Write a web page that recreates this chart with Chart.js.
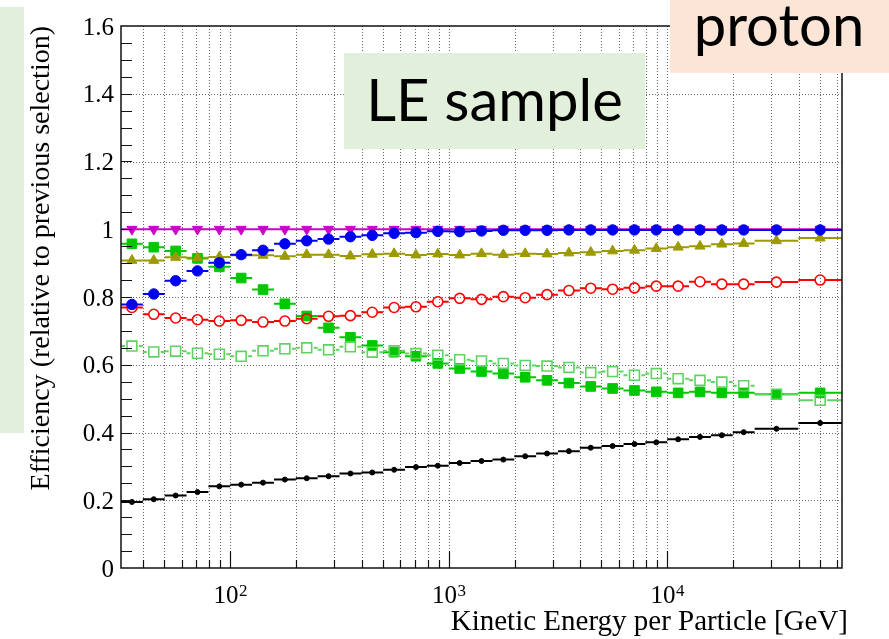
<!DOCTYPE html>
<html>
<head>
<meta charset="utf-8">
<script src="https://cdn.jsdelivr.net/npm/chart.js@4.4.1/dist/chart.umd.min.js"></script>
<style>
  html, body { margin: 0; padding: 0; background: #fff; }
  canvas { display: block; }
</style>
</head>
<body>
<canvas id="chart" width="889" height="639"></canvas>
<script>
"use strict";

// Bin edges in GeV: 10 bins per decade, the last two bins are twice as wide
const binEdges = [
  31.62, 39.81, 50.12, 63.1, 79.43, 100, 125.9, 158.5, 199.5, 251.2, 316.2,
  398.1, 501.2, 631, 794.3, 1000, 1259, 1585, 1995, 2512, 3162, 3981, 5012,
  6310, 7943, 10000, 12589, 15849, 19953, 25119, 39811, 63096,
];

// Efficiency per bin, one array per selection step
const magentaEff = [
  1.0, 1.0, 1.0, 1.0, 1.0, 1.0, 1.0, 1.0, 1.0, 1.0, 1.0, 1.0, 1.0, 1.0, 1.0,
  1.0, 1.0, 1.0, 1.0, 1.0, 1.0, 1.0, 1.0, 1.0, 1.0, 1.0, 1.0, 1.0, 1.0, 1.0, 1.0,
];
const blueEff = [
  0.778, 0.809, 0.848, 0.877, 0.901, 0.925, 0.938, 0.957, 0.966, 0.971, 0.978,
  0.982, 0.988, 0.99, 0.994, 0.993, 0.995, 0.997, 0.997, 0.997, 0.998, 0.998,
  0.998, 0.998, 0.998, 0.998, 0.998, 0.998, 0.998, 0.998, 0.998,
];
const oliveEff = [
  0.908, 0.908, 0.917, 0.916, 0.918, 0.923, 0.923, 0.92, 0.925, 0.925, 0.921,
  0.926, 0.928, 0.924, 0.927, 0.924, 0.928, 0.925, 0.928, 0.927, 0.93, 0.932,
  0.936, 0.938, 0.943, 0.947, 0.95, 0.956, 0.958, 0.966, 0.974,
];
const redEff = [
  0.769, 0.749, 0.738, 0.733, 0.729, 0.731, 0.726, 0.729, 0.736, 0.743, 0.745,
  0.755, 0.769, 0.771, 0.786, 0.796, 0.793, 0.801, 0.798, 0.807, 0.819, 0.826,
  0.823, 0.827, 0.832, 0.832, 0.845, 0.838, 0.838, 0.844, 0.85,
];
const greenEff = [
  0.957, 0.947, 0.936, 0.914, 0.889, 0.856, 0.822, 0.78, 0.744, 0.709, 0.681,
  0.657, 0.637, 0.625, 0.604, 0.589, 0.58, 0.574, 0.563, 0.554, 0.546, 0.536,
  0.53, 0.524, 0.52, 0.517, 0.52, 0.517, 0.517, 0.513, 0.517,
];
const lightGreenEff = [
  0.655, 0.638, 0.64, 0.634, 0.631, 0.625, 0.641, 0.647, 0.65, 0.644, 0.653,
  0.637, 0.641, 0.633, 0.628, 0.615, 0.611, 0.604, 0.598, 0.596, 0.592, 0.577,
  0.58, 0.569, 0.574, 0.559, 0.554, 0.549, 0.538, 0.513, 0.495,
];
const blackEff = [
  0.195, 0.203, 0.214, 0.224, 0.241, 0.246, 0.252, 0.261, 0.265, 0.271, 0.279,
  0.282, 0.29, 0.298, 0.302, 0.31, 0.316, 0.32, 0.33, 0.338, 0.345, 0.355,
  0.36, 0.366, 0.371, 0.38, 0.387, 0.392, 0.401, 0.411, 0.428,
];

// Axis ticks and labels
const yTickValues = [0, 0.2, 0.4, 0.6, 0.8, 1, 1.2, 1.4, 1.6];
const yTickLabels = ["0", "0.2", "0.4", "0.6", "0.8", "1", "1.2", "1.4", "1.6"];
const xMajorTicks = [100, 1000, 10000];
const xTickExponents = ["2", "3", "4"];
const xMinorTicks = [
  40, 50, 60, 70, 80, 90, 200, 300, 400, 500, 600, 700, 800, 900, 2000, 3000,
  4000, 5000, 6000, 7000, 8000, 9000, 20000, 30000, 40000, 50000, 60000,
];

const xTitle = "Kinetic Energy per Particle [GeV]";
const yTitle = "Efficiency (relative to previous selection)";

(() => {
  const serif = "'Liberation Serif', 'Times New Roman', serif";

  const binCenters = binEdges
    .slice(0, -1)
    .map((lo, i) => Math.sqrt(lo * binEdges[i + 1]));

  function makeSeries(values, color, style) {
    return {
      data: values.map((v, i) => ({ x: binCenters[i], y: v })),
      borderColor: color,
      backgroundColor: style.hollow ? "transparent" : color,
      pointStyle: style.shape,
      pointRadius: style.radius,
      pointRotation: style.rotation || 0,
      pointBorderWidth: style.hollow ? 1.6 : 1,
      pointBackgroundColor: style.hollow ? "transparent" : color,
      pointBorderColor: color,
      showLine: false,
      hollow: !!style.hollow,
    };
  }

  // first dataset is drawn on top
  const datasets = [
    makeSeries(blueEff, "#0000f0", { shape: "circle", radius: 5.2 }),
    makeSeries(magentaEff, "#cc00cc", { shape: "triangle", radius: 5.8, rotation: 180 }),
    makeSeries(oliveEff, "#9c9a00", { shape: "triangle", radius: 5.8 }),
    makeSeries(redEff, "#ff0000", { shape: "circle", radius: 5, hollow: true }),
    makeSeries(lightGreenEff, "#5fd35f", { shape: "rect", radius: 7, hollow: true }),
    makeSeries(greenEff, "#00c800", { shape: "rect", radius: 6.8 }),
    makeSeries(blackEff, "#000000", { shape: "circle", radius: 2.5 }),
  ];

  const rootFrame = {
    id: "rootFrame",
    beforeDraw(chart) {
      const { ctx, chartArea: a, scales } = chart;
      const { x, y } = scales;
      ctx.save();
      ctx.fillStyle = "#fff";
      ctx.fillRect(0, 0, chart.width, chart.height);

      // dotted grid
      ctx.strokeStyle = "#666";
      ctx.lineWidth = 1;
      ctx.setLineDash([1, 2]);
      ctx.beginPath();
      for (const v of xMinorTicks.concat(xMajorTicks)) {
        const px = Math.round(x.getPixelForValue(v)) + 0.5;
        ctx.moveTo(px, a.top);
        ctx.lineTo(px, a.bottom);
      }
      for (const v of yTickValues.slice(1, -1)) {
        const py = Math.round(y.getPixelForValue(v)) + 0.5;
        ctx.moveTo(a.left, py);
        ctx.lineTo(a.right, py);
      }
      ctx.stroke();
      ctx.restore();
    },

    beforeDatasetsDraw(chart) {
      // horizontal error bars spanning each bin
      const { ctx, chartArea: a, scales } = chart;
      const x = scales.x;
      ctx.save();
      ctx.beginPath();
      ctx.rect(a.left, a.top, a.width, a.height);
      ctx.clip();
      ctx.lineWidth = 2;
      for (let d = chart.data.datasets.length - 1; d >= 0; d--) {
        const ds = chart.data.datasets[d];
        const meta = chart.getDatasetMeta(d);
        ctx.strokeStyle = ds.borderColor;
        ctx.beginPath();
        meta.data.forEach((pt, i) => {
          const lo = x.getPixelForValue(binEdges[i]);
          const hi = x.getPixelForValue(binEdges[i + 1]);
          const gap = ds.hollow ? ds.pointRadius : 0;
          ctx.moveTo(lo, pt.y);
          ctx.lineTo(pt.x - gap, pt.y);
          ctx.moveTo(pt.x + gap, pt.y);
          ctx.lineTo(hi, pt.y);
        });
        ctx.stroke();
      }
      ctx.restore();
    },

    afterDraw(chart) {
      const { ctx, chartArea: a, scales } = chart;
      const { x, y } = scales;
      ctx.save();

      // frame
      ctx.strokeStyle = "#111";
      ctx.lineWidth = 1.5;
      ctx.strokeRect(a.left, a.top, a.width, a.height);

      // ticks
      ctx.lineWidth = 1.2;
      ctx.beginPath();
      for (let v = 0.05; v < 1.6; v += 0.05) {
        const py = Math.round(y.getPixelForValue(v)) + 0.5;
        ctx.moveTo(a.left, py);
        ctx.lineTo(a.left + 11, py);
      }
      for (const v of xMinorTicks) {
        const px = Math.round(x.getPixelForValue(v)) + 0.5;
        ctx.moveTo(px, a.bottom);
        ctx.lineTo(px, a.bottom - 8);
      }
      for (const v of xMajorTicks) {
        const px = Math.round(x.getPixelForValue(v)) + 0.5;
        ctx.moveTo(px, a.bottom);
        ctx.lineTo(px, a.bottom - 17);
      }
      ctx.stroke();

      // tick labels
      ctx.fillStyle = "#000";
      ctx.font = `25px ${serif}`;
      ctx.textAlign = "right";
      ctx.textBaseline = "middle";
      yTickValues.forEach((v, i) => {
        ctx.fillText(yTickLabels[i], 114, y.getPixelForValue(v) + 2);
      });

      ctx.textAlign = "left";
      ctx.textBaseline = "alphabetic";
      xMajorTicks.forEach((v, i) => {
        const px = x.getPixelForValue(v);
        ctx.font = `25px ${serif}`;
        const w1 = ctx.measureText("10").width;
        ctx.font = `17px ${serif}`;
        const w2 = ctx.measureText(xTickExponents[i]).width;
        const start = px - (w1 + w2) / 2;
        ctx.font = `25px ${serif}`;
        ctx.fillText("10", start, 603);
        ctx.font = `17px ${serif}`;
        ctx.fillText(xTickExponents[i], start + w1 + 0.5, 596);
      });

      // axis titles
      ctx.font = `29px ${serif}`;
      ctx.textAlign = "right";
      ctx.fillText(xTitle, 848, 630);

      ctx.save();
      ctx.translate(49, 26);
      ctx.rotate(-Math.PI / 2);
      ctx.font = `28px ${serif}`;
      ctx.textAlign = "right";
      ctx.fillText(yTitle, 0, 0);
      ctx.restore();

      // slide annotations on top of the plot
      ctx.fillStyle = "#e2efda";
      ctx.fillRect(0, 7, 24, 426);
      ctx.fillRect(344, 53, 301, 96);
      ctx.fillStyle = "#fbe5d6";
      ctx.fillRect(670, 0, 219, 73);

      ctx.fillStyle = "#000";
      ctx.font = "58px Lato, 'Open Sans', sans-serif";
      ctx.textAlign = "center";
      ctx.fillText("LE sample", 494.5, 121);
      ctx.fillText("proton", 779, 46);
      ctx.restore();
    },
  };

  new Chart(document.getElementById("chart"), {
    type: "scatter",
    data: { datasets },
    options: {
      responsive: false,
      animation: false,
      layout: { padding: { left: 121, top: 26, right: 47, bottom: 71 } },
      plugins: {
        legend: { display: false },
        tooltip: { enabled: false },
      },
      scales: {
        x: { type: "logarithmic", min: 31.62, max: 63096, display: false },
        y: { min: 0, max: 1.6, display: false },
      },
    },
    plugins: [rootFrame],
  });
})();
</script>
</body>
</html>
